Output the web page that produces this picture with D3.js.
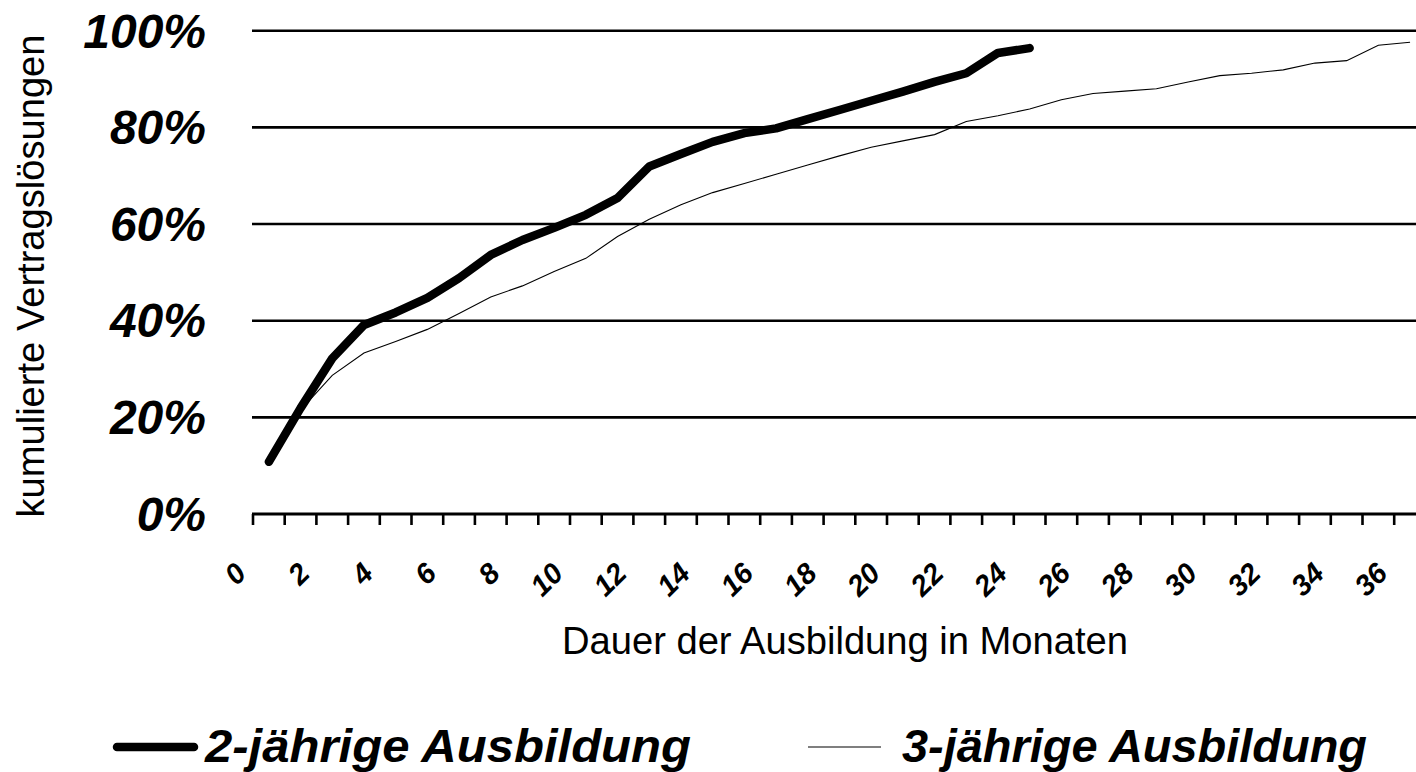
<!DOCTYPE html>
<html>
<head>
<meta charset="utf-8">
<script src="https://cdn.jsdelivr.net/npm/d3@7"></script>
<style>
  body { margin: 0; background: #fff; }
  svg { display: block; }
  text { font-family: "Liberation Sans", Arial, sans-serif; fill: #000; }
</style>
</head>
<body>
<div class="chart"></div>
<script>
// cumulative contract dissolutions in % by month of training
var zweiJahre = [10.8, 21.9, 32.2, 39.1, 41.7, 44.7, 48.8, 53.6, 56.7, 59.2,
  61.9, 65.4, 71.9, 74.5, 77.0, 78.8, 79.8, 81.7, 83.6, 85.5,
  87.4, 89.4, 91.2, 95.4, 96.4];
var dreiJahre = [11.0, 21.5, 28.7, 33.3, 35.7, 38.2, 41.5, 44.9, 47.2, 50.2,
  52.9, 57.4, 61.0, 64.0, 66.5, 68.4, 70.3, 72.2, 74.1, 75.9,
  77.2, 78.5, 81.2, 82.4, 83.8, 85.7, 87.0, 87.5, 88.0, 89.4,
  90.7, 91.2, 91.9, 93.3, 93.8, 97.0, 97.6];
var yTicks = [0, 20, 40, 60, 80, 100];
var xLabels = [0, 2, 4, 6, 8, 10, 12, 14, 16, 18, 20, 22, 24, 26, 28, 30, 32, 34, 36];
var legendNames = ['2-jährige Ausbildung', '3-jährige Ausbildung'];

var width = 1416,
    height = 772,
    left = 253,
    step = 31.7,
    nMonths = 37;

var svg = d3.select('.chart').append('svg')
  .attr('width', width)
  .attr('height', height);

var x = d3.scaleLinear()
  .domain([0, nMonths])
  .range([left, left + step * nMonths]);
var y = d3.scaleLinear()
  .domain([0, 100])
  .range([514, 30.7]);

// gridlines
svg.append('g').attr('class', 'grid')
  .selectAll('line')
  .data(yTicks.filter(function(d) { return d > 0; }))
  .enter().append('line')
    .attr('x1', left - 1)
    .attr('x2', width)
    .attr('y1', y)
    .attr('y2', y)
    .attr('stroke', '#000')
    .attr('stroke-width', 2.6);

// y labels
svg.append('g').attr('class', 'y-labels')
  .selectAll('text')
  .data(yTicks)
  .enter().append('text')
    .attr('x', 206)
    .attr('y', y)
    .attr('dy', '0.35em')
    .attr('text-anchor', 'end')
    .style('font-size', '48px')
    .style('font-weight', 'bold')
    .style('font-style', 'italic')
    .text(function(d) { return d + '%'; });

// x axis line + ticks
var xAxis = svg.append('g').attr('class', 'x-axis');
xAxis.append('line')
  .attr('x1', left - 1)
  .attr('x2', width)
  .attr('y1', y(0))
  .attr('y2', y(0))
  .attr('stroke', '#000')
  .attr('stroke-width', 3);
xAxis.selectAll('.tick')
  .data(d3.range(0, nMonths + 1))
  .enter().append('line')
    .attr('class', 'tick')
    .attr('x1', x)
    .attr('x2', x)
    .attr('y1', y(0))
    .attr('y2', y(0) + 11)
    .attr('stroke', '#000')
    .attr('stroke-width', 2.6);
xAxis.selectAll('.label')
  .data(xLabels)
  .enter().append('text')
    .attr('class', 'label')
    .attr('text-anchor', 'end')
    .attr('transform', function(d) {
      return 'translate(' + (x(d) - 5) + ',575) rotate(-45)';
    })
    .style('font-size', '29px')
    .style('font-weight', 'bold')
    .style('font-style', 'italic')
    .text(function(d) { return d; });

// axis titles
svg.append('text')
  .attr('x', 845)
  .attr('y', 654)
  .attr('text-anchor', 'middle')
  .attr('textLength', 566)
  .attr('lengthAdjust', 'spacingAndGlyphs')
  .style('font-size', '38px')
  .text('Dauer der Ausbildung in Monaten');

svg.append('text')
  .attr('transform', 'translate(44,276) rotate(-90)')
  .attr('text-anchor', 'middle')
  .attr('textLength', 483)
  .attr('lengthAdjust', 'spacingAndGlyphs')
  .style('font-size', '38px')
  .text('kumulierte Vertragslösungen');

// lines
var line = d3.line()
  .x(function(d, i) { return x(i + 0.5); })
  .y(function(d) { return y(d); });

svg.append('path')
  .datum(dreiJahre)
  .attr('d', line)
  .attr('fill', 'none')
  .attr('stroke', '#000')
  .attr('stroke-width', 1.1);

svg.append('path')
  .datum(zweiJahre)
  .attr('d', line)
  .attr('fill', 'none')
  .attr('stroke', '#000')
  .attr('stroke-width', 8.5)
  .attr('stroke-linecap', 'round')
  .attr('stroke-linejoin', 'round');

// legend
var legendItems = [
  {name: legendNames[0], x1: 117, x2: 194, sw: 8.5, textX: 205, textLen: 486},
  {name: legendNames[1], x1: 808, x2: 881, sw: 1.1, textX: 902, textLen: 465}
];
var legend = svg.append('g').attr('class', 'legend')
  .selectAll('g')
  .data(legendItems)
  .enter().append('g');
legend.append('line')
  .attr('x1', function(d) { return d.x1; })
  .attr('x2', function(d) { return d.x2; })
  .attr('y1', 747)
  .attr('y2', 747)
  .attr('stroke', '#000')
  .attr('stroke-width', function(d) { return d.sw; })
  .attr('stroke-linecap', function(d) { return d.sw > 2 ? 'round' : 'butt'; });
legend.append('text')
  .attr('x', function(d) { return d.textX; })
  .attr('y', 762)
  .attr('textLength', function(d) { return d.textLen; })
  .attr('lengthAdjust', 'spacingAndGlyphs')
  .style('font-size', '46px')
  .style('font-weight', 'bold')
  .style('font-style', 'italic')
  .text(function(d) { return d.name; });
</script>
</body>
</html>
